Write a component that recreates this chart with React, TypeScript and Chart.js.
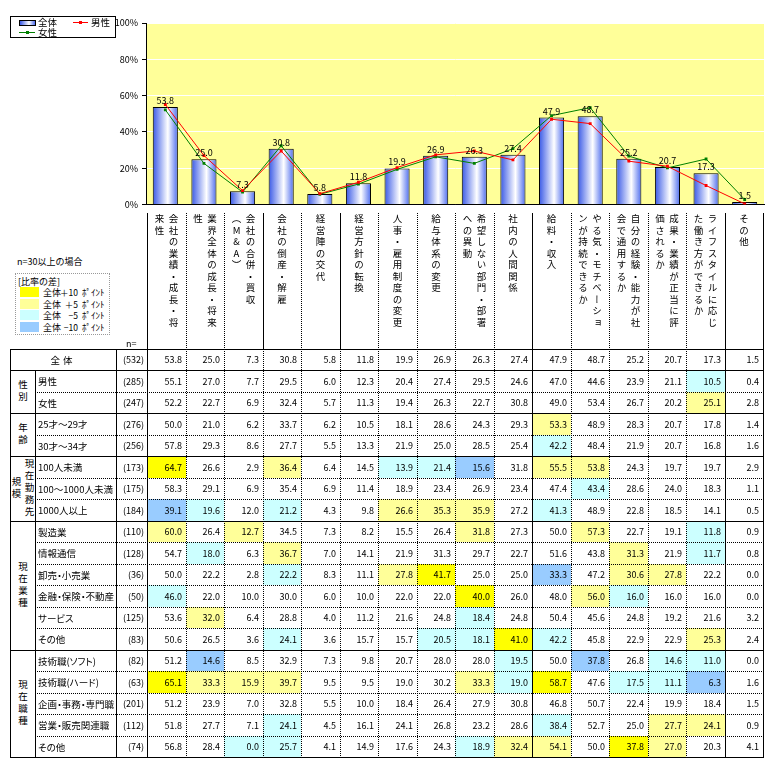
import React, { useEffect, useRef } from "react";
import { Chart, registerables } from "chart.js";

Chart.register(...registerables);

const FONT = "'Noto Sans CJK JP', 'Noto Sans', sans-serif";

// ---- category labels (vertical, split into columns as in the source) ----
const categoryLabels: string[][] = [
  ["会社の業績・成長・将", "来性"],
  ["業界全体の成長・将来", "性"],
  ["会社の合併・買収", "（M&A）"],
  ["会社の倒産・解雇"],
  ["経営陣の交代"],
  ["経営方針の転換"],
  ["人事・雇用制度の変更"],
  ["給与体系の変更"],
  ["希望しない部門・部署", "への異動"],
  ["社内の人間関係"],
  ["給料・収入"],
  ["やる気・モチベーショ", "ンが持続できるか"],
  ["自分の経験・能力が社", "会で通用するか"],
  ["成果・業績が正当に評", "価されるか"],
  ["ライフスタイルに応じ", "た働き方ができるか"],
  ["その他"],
];

const yTickStep = 20;

// ---- table rows (percent) ----
const rowTotal = [53.8, 25.0, 7.3, 30.8, 5.8, 11.8, 19.9, 26.9, 26.3, 27.4, 47.9, 48.7, 25.2, 20.7, 17.3, 1.5];
const rowMale = [55.1, 27.0, 7.7, 29.5, 6.0, 12.3, 20.4, 27.4, 29.5, 24.6, 47.0, 44.6, 23.9, 21.1, 10.5, 0.4];
const rowFemale = [52.2, 22.7, 6.9, 32.4, 5.7, 11.3, 19.4, 26.3, 22.7, 30.8, 49.0, 53.4, 26.7, 20.2, 25.1, 2.8];
const rowAge25 = [50.0, 21.0, 6.2, 33.7, 6.2, 10.5, 18.1, 28.6, 24.3, 29.3, 53.3, 48.9, 28.3, 20.7, 17.8, 1.4];
const rowAge30 = [57.8, 29.3, 8.6, 27.7, 5.5, 13.3, 21.9, 25.0, 28.5, 25.4, 42.2, 48.4, 21.9, 20.7, 16.8, 1.6];
const rowSize100 = [64.7, 26.6, 2.9, 36.4, 6.4, 14.5, 13.9, 21.4, 15.6, 31.8, 55.5, 53.8, 24.3, 19.7, 19.7, 2.9];
const rowSize1000 = [58.3, 29.1, 6.9, 35.4, 6.9, 11.4, 18.9, 23.4, 26.9, 23.4, 47.4, 43.4, 28.6, 24.0, 18.3, 1.1];
const rowSizeOver = [39.1, 19.6, 12.0, 21.2, 4.3, 9.8, 26.6, 35.3, 35.9, 27.2, 41.3, 48.9, 22.8, 18.5, 14.1, 0.5];
const rowManufacturing = [60.0, 26.4, 12.7, 34.5, 7.3, 8.2, 15.5, 26.4, 31.8, 27.3, 50.0, 57.3, 22.7, 19.1, 11.8, 0.9];
const rowIT = [54.7, 18.0, 6.3, 36.7, 7.0, 14.1, 21.9, 31.3, 29.7, 22.7, 51.6, 43.8, 31.3, 21.9, 11.7, 0.8];
const rowRetail = [50.0, 22.2, 2.8, 22.2, 8.3, 11.1, 27.8, 41.7, 25.0, 25.0, 33.3, 47.2, 30.6, 27.8, 22.2, 0.0];
const rowFinance = [46.0, 22.0, 10.0, 30.0, 6.0, 10.0, 22.0, 22.0, 40.0, 26.0, 48.0, 56.0, 16.0, 16.0, 16.0, 0.0];
const rowService = [53.6, 32.0, 6.4, 28.8, 4.0, 11.2, 21.6, 24.8, 18.4, 24.8, 50.4, 45.6, 24.8, 19.2, 21.6, 3.2];
const rowIndustryOther = [50.6, 26.5, 3.6, 24.1, 3.6, 15.7, 15.7, 20.5, 18.1, 41.0, 42.2, 45.8, 22.9, 22.9, 25.3, 2.4];
const rowSoftware = [51.2, 14.6, 8.5, 32.9, 7.3, 9.8, 20.7, 28.0, 28.0, 19.5, 50.0, 37.8, 26.8, 14.6, 11.0, 0.0];
const rowHardware = [65.1, 33.3, 15.9, 39.7, 9.5, 9.5, 19.0, 30.2, 33.3, 19.0, 58.7, 47.6, 17.5, 11.1, 6.3, 1.6];
const rowPlanning = [51.2, 23.9, 7.0, 32.8, 5.5, 10.0, 18.4, 26.4, 27.9, 30.8, 46.8, 50.7, 22.4, 19.9, 18.4, 1.5];
const rowSales = [51.8, 27.7, 7.1, 24.1, 4.5, 16.1, 24.1, 26.8, 23.2, 28.6, 38.4, 52.7, 25.0, 27.7, 24.1, 0.9];
const rowJobOther = [56.8, 28.4, 0.0, 25.7, 4.1, 14.9, 17.6, 24.3, 18.9, 32.4, 54.1, 50.0, 37.8, 27.0, 20.3, 4.1];

const rowLabels = [
  "全体", "男性", "女性", "25才～29才", "30才～34才", "100人未満", "100～1000人未満", "1000人以上",
  "製造業", "情報通信", "卸売・小売業", "金融・保険・不動産", "サービス", "その他",
  "技術職(ソフト)", "技術職(ハード)", "企画・事務・専門職", "営業・販売関連職", "その他",
];
const rowN = [532, 285, 247, 276, 256, 173, 175, 184, 110, 128, 36, 50, 125, 83, 82, 63, 201, 112, 74];
const rowValues = [
  rowTotal, rowMale, rowFemale, rowAge25, rowAge30, rowSize100, rowSize1000, rowSizeOver,
  rowManufacturing, rowIT, rowRetail, rowFinance, rowService, rowIndustryOther,
  rowSoftware, rowHardware, rowPlanning, rowSales, rowJobOther,
];
const groupNames: string[][] = [["性別"], ["年齢"], ["現在勤務先", "規模"], ["現在業種"], ["現在職種"]];
const groupStart = [1, 3, 5, 8, 14];
const groupLen = [2, 2, 3, 6, 5];

const legendRules = [
  { sign: "＋10", color: "#FFFF00" },
  { sign: "＋5", color: "#FFFF99" },
  { sign: "−5", color: "#CCFFFF" },
  { sign: "−10", color: "#99CCFF" },
];

function highlight(v: number, base: number, n: number): string | null {
  if (n < 30) return null;
  const d = v - base;
  const e = 1e-9;
  if (d >= 10 - e) return "#FFFF00";
  if (d >= 5 - e) return "#FFFF99";
  if (d <= -10 + e) return "#99CCFF";
  if (d <= -5 + e) return "#CCFFFF";
  return null;
}

// ---- layout constants ----
const TOP = 349;
const BOTTOM = 757;
const RH = (BOTTOM - TOP) / rowLabels.length;
const ry = (i: number) => Math.round(TOP + i * RH);
const X_OUT = 10, X_GRP = 35, X_LBL = 116, X_N = 147, X_R = 763;
const COLW = (X_R - X_N) / categoryLabels.length;
const cxp = (j: number) => Math.round(X_N + j * COLW);
const HEADER_TOP = 213;
const BAR_PCT = 0.65;

const barFill = (c: any) => {
  const chart = c.chart;
  const a = chart.chartArea;
  if (!a || c.dataIndex === undefined) return "#6A86F0";
  const colW = (a.right - a.left) / rowTotal.length;
  const x = a.left + colW * (c.dataIndex + 0.5);
  const hw = (colW * BAR_PCT) / 2;
  const g = chart.ctx.createLinearGradient(x - hw, 0, x + hw, 0);
  g.addColorStop(0, "#3858E6");
  g.addColorStop(0.6, "#FFFFFF");
  g.addColorStop(1, "#4D6CEE");
  return g;
};

const plotBg = {
  id: "plotBg",
  beforeDraw(chart: any) {
    const { ctx, chartArea: a } = chart;
    ctx.save();
    ctx.fillStyle = "#FFFF99";
    ctx.fillRect(a.left, a.top, a.right - a.left, a.bottom - a.top);
    ctx.restore();
  },
};

const barLabels = {
  id: "barLabels",
  afterDatasetsDraw(chart: any) {
    const meta = chart.getDatasetMeta(0);
    const ctx = chart.ctx;
    ctx.save();
    ctx.font = `9px ${FONT}`;
    ctx.fillStyle = "#000";
    ctx.textAlign = "center";
    ctx.textBaseline = "bottom";
    meta.data.forEach((el: any, i: number) => {
      ctx.fillText(rowTotal[i].toFixed(1), el.x, el.y - 2);
    });
    ctx.restore();
  },
};

function TopChart() {
  const ref = useRef<HTMLCanvasElement | null>(null);
  useEffect(() => {
    if (!ref.current) return;
    const chart = new Chart(ref.current, {
      type: "bar",
      data: {
        labels: categoryLabels.map((l) => l.join("")),
        datasets: [
          {
            type: "bar",
            label: "全体",
            data: rowTotal,
            backgroundColor: barFill as any,
            borderColor: "#000",
            borderWidth: 1,
            barPercentage: BAR_PCT,
            categoryPercentage: 1,
            order: 1,
          } as any,
          {
            type: "line",
            label: "男性",
            data: rowMale,
            borderColor: "#FF0000",
            backgroundColor: "#FF0000",
            borderWidth: 1,
            pointRadius: 2,
            pointStyle: "rect",
            pointBorderWidth: 0,
            pointBackgroundColor: "#FF0000",
            tension: 0,
            order: 0,
          } as any,
          {
            type: "line",
            label: "女性",
            data: rowFemale,
            borderColor: "#008000",
            backgroundColor: "#008000",
            borderWidth: 1,
            pointRadius: 2,
            pointStyle: "rect",
            pointBorderWidth: 0,
            pointBackgroundColor: "#008000",
            tension: 0,
            order: 0,
          } as any,
        ],
      },
      options: {
        responsive: false,
        animation: false,
        devicePixelRatio: 1,
        layout: { padding: { top: 23, right: 6, left: 0, bottom: 0 } },
        plugins: { legend: { display: false }, tooltip: { enabled: false } },
        scales: {
          x: {
            ticks: { display: false },
            grid: { display: false },
            border: { display: true, color: "#000", width: 1 },
            afterFit: (s: any) => {
              s.height = 2;
            },
          },
          y: {
            min: 0,
            max: 100,
            ticks: {
              stepSize: yTickStep,
              callback: (v: any) => v + "%",
              font: { size: 9, family: FONT },
              color: "#000",
              padding: 4,
            },
            grid: {
              color: (c: any) => (c.tick && c.tick.value === 0 ? "#000" : "#FFFFFF"),
              tickColor: "#000",
              tickLength: 4,
              lineWidth: 1,
            },
            border: { display: true, color: "#000", width: 1 },
            afterFit: (s: any) => {
              s.width = 146;
            },
          },
        },
      } as any,
      plugins: [plotBg, barLabels],
    });
    return () => chart.destroy();
  }, []);
  return (
    <canvas
      ref={ref}
      width={770}
      height={214}
      style={{ position: "absolute", left: 0, top: 0, width: 770, height: 214, display: "block" }}
    />
  );
}

function hLine(key: string, x1: number, x2: number, y: number, dotted: boolean) {
  return (
    <div
      key={key}
      style={{
        position: "absolute",
        left: x1,
        top: y,
        width: x2 - x1 + 1,
        height: 0,
        borderTop: `1px ${dotted ? "dotted" : "solid"} #000`,
      }}
    />
  );
}
function vLine(key: string, x: number, y1: number, y2: number, dotted: boolean) {
  return (
    <div
      key={key}
      style={{
        position: "absolute",
        left: x,
        top: y1,
        width: 0,
        height: y2 - y1 + 1,
        borderLeft: `1px ${dotted ? "dotted" : "solid"} #000`,
      }}
    />
  );
}

function Table() {
  const bg: React.ReactNode[] = [];
  const lines: React.ReactNode[] = [];
  const texts: React.ReactNode[] = [];
  const nCols = categoryLabels.length;

  // backgrounds + numbers
  rowValues.forEach((vals, i) => {
    vals.forEach((v, j) => {
      const col = i === 0 ? null : highlight(v, rowTotal[j], rowN[i]);
      const l = cxp(j), r = cxp(j + 1), t = ry(i), b = ry(i + 1);
      if (col)
        bg.push(
          <div key={`bg${i}-${j}`} style={{ position: "absolute", left: l, top: t, width: r - l, height: b - t, background: col }} />
        );
      texts.push(
        <div
          key={`v${i}-${j}`}
          style={{
            position: "absolute", left: l, top: t, width: r - l, height: b - t, boxSizing: "border-box",
            paddingRight: 4, display: "flex", alignItems: "center", justifyContent: "flex-end", fontSize: 9,
          }}
        >
          {v.toFixed(1)}
        </div>
      );
    });
    // n column
    texts.push(
      <div
        key={`n${i}`}
        style={{
          position: "absolute", left: X_LBL, top: ry(i), width: X_N - X_LBL, height: ry(i + 1) - ry(i),
          boxSizing: "border-box", paddingRight: 3, display: "flex", alignItems: "center", justifyContent: "flex-end", fontSize: 9,
        }}
      >
        ({rowN[i]})
      </div>
    );
    // row label
    if (i === 0) {
      texts.push(
        <div
          key={`l${i}`}
          style={{
            position: "absolute", left: X_OUT, top: ry(i), width: X_LBL - X_OUT, height: ry(i + 1) - ry(i),
            display: "flex", alignItems: "center", justifyContent: "center", fontSize: 9.5, letterSpacing: 3,
          }}
        >
          {rowLabels[i]}
        </div>
      );
    } else {
      texts.push(
        <div
          key={`l${i}`}
          style={{
            position: "absolute", left: X_GRP + 3, top: ry(i), width: X_LBL - X_GRP - 3, height: ry(i + 1) - ry(i),
            display: "flex", alignItems: "center", fontSize: 9.5, whiteSpace: "nowrap",
            fontFeatureSettings: '"palt"',
          }}
        >
          {rowLabels[i]}
        </div>
      );
    }
  });

  // group labels
  groupNames.forEach((g, k) => {
    const t = ry(groupStart[k]);
    const b = ry(groupStart[k] + groupLen[k]);
    texts.push(
      <div
        key={`g${k}`}
        style={{
          position: "absolute", left: X_OUT, top: t, width: X_GRP - X_OUT, height: b - t,
          display: "flex", justifyContent: "center",
        }}
      >
        <div
          style={{
            writingMode: "vertical-rl", textAlign: "center", fontSize: 9.5, letterSpacing: 2.5,
            lineHeight: "13px", whiteSpace: "pre",
          }}
        >
          {g.join("\n")}
        </div>
      </div>
    );
  });

  // horizontal lines
  const solidAfter = new Set<number>([0, 1, 3, 5, 8, 14, rowLabels.length]);
  for (let i = 0; i <= rowLabels.length; i++) {
    if (solidAfter.has(i)) lines.push(hLine(`h${i}`, X_OUT, X_R, ry(i), false));
    else lines.push(hLine(`h${i}`, X_GRP, X_R, ry(i), true));
  }
  // vertical lines
  lines.push(vLine("vout", X_OUT, ry(0), ry(rowLabels.length), false));
  lines.push(vLine("vgrp", X_GRP, ry(1), ry(rowLabels.length), false));
  lines.push(vLine("vlbl", X_LBL, ry(0), ry(rowLabels.length), false));
  const headSolid = new Set<number>([0, 3, 5, 10, 15, nCols]);
  const bodySolid = new Set<number>([0, 10, 15, nCols]);
  for (let j = 0; j <= nCols; j++) {
    lines.push(vLine(`vh${j}`, cxp(j), HEADER_TOP, ry(0), !headSolid.has(j)));
    lines.push(vLine(`vb${j}`, cxp(j), ry(0), ry(rowLabels.length), !bodySolid.has(j)));
  }

  // category header labels
  const heads = categoryLabels.map((lns, j) => (
    <div
      key={`c${j}`}
      style={{
        position: "absolute", left: cxp(j), width: cxp(j + 1) - cxp(j), top: HEADER_TOP + 1, height: ry(0) - HEADER_TOP - 3,
        display: "flex", justifyContent: "center",
      }}
    >
      <div
        style={{
          writingMode: "vertical-rl", textOrientation: "upright", fontSize: 9.5, letterSpacing: 2,
          lineHeight: "14px", whiteSpace: "pre",
        }}
      >
        {lns.join("\n")}
      </div>
    </div>
  ));

  return (
    <>
      {bg}
      {lines}
      {texts}
      {heads}
      <div style={{ position: "absolute", left: 126, top: 338, fontSize: 9, lineHeight: "12px" }}>n=</div>
    </>
  );
}

function TopLegend() {
  return (
    <div
      style={{
        position: "absolute", left: 10, top: 16, width: 104, height: 20, border: "1px solid #000",
        background: "#fff", fontSize: 9.5, lineHeight: "11px",
      }}
    >
      <div
        style={{
          position: "absolute", left: 8, top: 3, width: 15, height: 4, border: "1px solid #000",
          background: "linear-gradient(to right, #3858E6, #FFFFFF 60%, #4D6CEE)",
        }}
      />
      <div style={{ position: "absolute", left: 27, top: 0 }}>全体</div>
      <div style={{ position: "absolute", left: 62, top: 5, width: 15, height: 1, background: "#FF0000" }} />
      <div style={{ position: "absolute", left: 68, top: 4, width: 3, height: 3, background: "#FF0000" }} />
      <div style={{ position: "absolute", left: 80, top: 0 }}>男性</div>
      <div style={{ position: "absolute", left: 8, top: 15, width: 16, height: 1, background: "#008000" }} />
      <div style={{ position: "absolute", left: 15, top: 14, width: 3, height: 3, background: "#008000" }} />
      <div style={{ position: "absolute", left: 27, top: 10 }}>女性</div>
    </div>
  );
}

function SideLegend() {
  return (
    <>
      <div style={{ position: "absolute", left: 17, top: 256, fontSize: 9, lineHeight: "12px" }}>n=30以上の場合</div>
      <div
        style={{
          position: "absolute", left: 15, top: 273, width: 93, height: 60, border: "1px dotted #999",
          fontSize: 9, lineHeight: "11px",
        }}
      >
        <div style={{ position: "absolute", left: 2, top: 2 }}>[比率の差]</div>
        {legendRules.map((r, k) => (
          <React.Fragment key={k}>
            <div style={{ position: "absolute", left: 4, top: 13 + k * 11.5, width: 19, height: 10, background: r.color }} />
            <div style={{ position: "absolute", left: 27, top: 13 + k * 11.5 }}>全体</div>
            <div style={{ position: "absolute", left: 44, width: 18, textAlign: "right", top: 13 + k * 11.5, fontSize: 8.5 }}>
              {r.sign}
            </div>
            <div style={{ position: "absolute", left: 66, top: 13 + k * 11.5 }}>ﾎﾟｲﾝﾄ</div>
          </React.Fragment>
        ))}
      </div>
    </>
  );
}

export default function App() {
  return (
    <div
      style={{
        position: "absolute", left: 0, top: 0, width: 770, height: 766, background: "#fff",
        fontFamily: FONT, color: "#000", overflow: "hidden",
      }}
    >
      <TopChart />
      <TopLegend />
      <SideLegend />
      <Table />
    </div>
  );
}
